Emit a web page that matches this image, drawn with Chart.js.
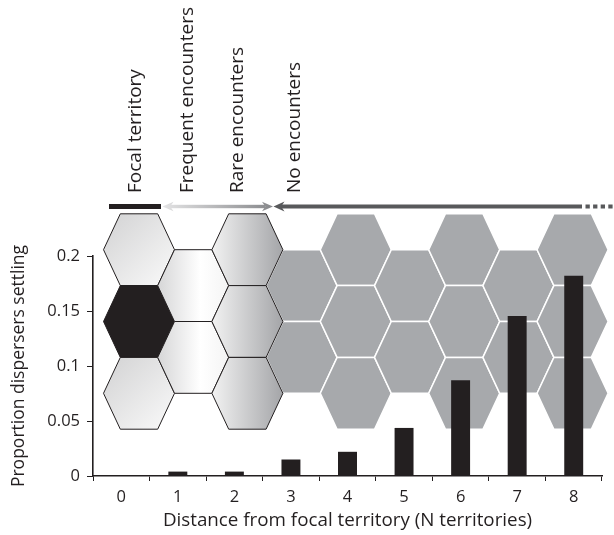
<!DOCTYPE html>
<html>
<head>
<meta charset="utf-8">
<script src="https://cdn.jsdelivr.net/npm/chart.js@4"></script>
<style>
  body { margin: 0; background: #fff; }
  canvas { display: block; }
</style>
</head>
<body>
<canvas id="grafico" width="614" height="535"></canvas>
<script>
const distancias = ['0', '1', '2', '3', '4', '5', '6', '7', '8'];
const proporcaoAssentamento = [0, 0.004, 0.004, 0.015, 0.022, 0.0437, 0.087, 0.1455, 0.182];
const rotulosY = ['0', '0.05', '0.1', '0.15', '0.2'];
const zonas = ['Focal territory', 'Frequent encounters', 'Rare encounters', 'No encounters'];

const corTexto = '#231f20';
const fonte = '"Open Sans"';

function hexagono(ctx, cx, cy, rx, meio, ry) {
    ctx.beginPath();
    ctx.moveTo(cx - rx, cy);
    ctx.lineTo(cx - meio, cy - ry);
    ctx.lineTo(cx + meio, cy - ry);
    ctx.lineTo(cx + rx, cy);
    ctx.lineTo(cx + meio, cy + ry);
    ctx.lineTo(cx - meio, cy + ry);
    ctx.closePath();
}

// fundo de hexagonos (territorios)
const territorios = {
    id: 'territorios',
    beforeDatasetsDraw(chart) {
        const { ctx, chartArea } = chart;
        const x0 = chartArea.left + 46, passo = 54.2;
        const rx = 35.5, meio = 18.7, ry = 35.9;
        const yTopo = chartArea.top - 6.3;
        const centros = (col) => {
            const lista = [];
            const n = col % 2 === 0 ? 3 : 2;
            for (let k = 0; k < n; k++) {
                lista.push(yTopo + (col % 2) * ry + 2 * ry * k);
            }
            return lista;
        };
        ctx.save();
        // colunas cinzentas primeiro
        for (let col = 3; col < 9; col++) {
            const cx = x0 + passo * col;
            centros(col).forEach((cy) => {
                hexagono(ctx, cx, cy, rx, meio, ry);
                ctx.fillStyle = '#a7a9ac';
                ctx.fill();
                ctx.strokeStyle = '#ffffff';
                ctx.lineWidth = 1.5;
                ctx.stroke();
            });
        }
        for (let col = 0; col < 3; col++) {
            const cx = x0 + passo * col;
            centros(col).forEach((cy, i) => {
                hexagono(ctx, cx, cy, rx, meio, ry);
                let g;
                if (col === 0 && i === 1) {
                    g = corTexto;
                } else if (col === 0) {
                    g = ctx.createLinearGradient(cx - rx, cy - ry, cx + rx, cy + ry);
                    g.addColorStop(0, '#d2d2d3');
                    g.addColorStop(1, '#fafafa');
                } else if (col === 1) {
                    g = ctx.createLinearGradient(cx - rx, cy, cx + rx, cy);
                    g.addColorStop(0, '#d6d6d7');
                    g.addColorStop(0.6, '#ffffff');
                    g.addColorStop(1, '#f4f4f4');
                } else {
                    g = ctx.createLinearGradient(cx - rx, cy, cx + rx, cy);
                    g.addColorStop(0, '#f2f2f2');
                    g.addColorStop(1, '#a4a5a8');
                }
                ctx.fillStyle = g;
                ctx.fill();
                ctx.strokeStyle = corTexto;
                ctx.lineWidth = 1;
                ctx.stroke();
            });
        }
        ctx.restore();
    }
};

function pontaSeta(ctx, x, y, dir, comp, alt) {
    ctx.beginPath();
    ctx.moveTo(x, y);
    ctx.lineTo(x - dir * comp, y - alt);
    ctx.lineTo(x - dir * comp * 0.7, y);
    ctx.lineTo(x - dir * comp, y + alt);
    ctx.closePath();
    ctx.fill();
}

// rotulos e setas acima do grafico
const zonasEncontro = {
    id: 'zonasEncontro',
    afterDraw(chart) {
        const { ctx } = chart;
        ctx.save();
        ctx.fillStyle = corTexto;
        ctx.font = '19px ' + fonte;
        ctx.textAlign = 'left';
        ctx.textBaseline = 'alphabetic';
        const basesX = [141, 193, 243, 300];
        zonas.forEach((texto, i) => {
            ctx.save();
            ctx.translate(basesX[i], 193);
            ctx.rotate(-Math.PI / 2);
            ctx.fillText(texto, 0, 0);
            ctx.restore();
        });

        const y = 206.5;
        // territorio focal
        ctx.fillStyle = corTexto;
        ctx.fillRect(109, 204, 52, 5);

        // encontros frequentes / raros
        const g = ctx.createLinearGradient(162, 0, 273, 0);
        g.addColorStop(0, '#e4e4e5');
        g.addColorStop(1, '#87888b');
        ctx.fillStyle = g;
        ctx.fillRect(168, y - 1.7, 97, 3.4);
        pontaSeta(ctx, 162.5, y, -1, 11, 4.8);
        pontaSeta(ctx, 273, y, 1, 11, 4.8);

        // sem encontros
        ctx.fillStyle = '#58595b';
        ctx.fillRect(281, y - 2, 301, 4);
        pontaSeta(ctx, 273.5, y, -1, 11, 5);
        ctx.strokeStyle = '#58595b';
        ctx.lineWidth = 4;
        ctx.setLineDash([4.3, 3.3]);
        ctx.beginPath();
        ctx.moveTo(585.5, y);
        ctx.lineTo(614, y);
        ctx.stroke();
        ctx.restore();
    }
};

new Chart(document.getElementById('grafico').getContext('2d'), {
    type: 'bar',
    data: {
        labels: distancias,
        datasets: [{
            label: 'Proportion dispersers settling',
            data: proporcaoAssentamento,
            backgroundColor: corTexto,
            borderWidth: 0,
            barPercentage: 0.335,
            categoryPercentage: 1
        }]
    },
    options: {
        responsive: false,
        animation: false,
        layout: {
            padding: { top: 256, right: 12, left: 0, bottom: 0 }
        },
        plugins: {
            legend: { display: false },
            tooltip: { enabled: false }
        },
        scales: {
            x: {
                afterFit: (scale) => { scale.height = 59; },
                grid: { drawOnChartArea: false, drawTicks: true, tickLength: 5, color: corTexto, lineWidth: 1 },
                border: { color: corTexto, width: 1.6 },
                ticks: { color: corTexto, font: { family: fonte, size: 16.5 }, padding: 6, maxRotation: 0 },
                title: {
                    display: true,
                    text: 'Distance from focal territory (N territories)',
                    color: corTexto,
                    font: { family: fonte, size: 18.8 },
                    padding: { top: 0, bottom: 3.5 }
                }
            },
            y: {
                min: 0,
                max: 0.2,
                afterFit: (scale) => { scale.width = 93; },
                grid: { drawOnChartArea: false, drawTicks: true, tickLength: 6, color: corTexto, lineWidth: 1 },
                border: { color: corTexto, width: 1.6 },
                ticks: {
                    stepSize: 0.05,
                    color: corTexto,
                    font: { family: fonte, size: 16.5 },
                    padding: 7,
                    callback: (valor, indice) => rotulosY[indice]
                },
                title: {
                    display: true,
                    text: 'Proportion dispersers settling',
                    color: corTexto,
                    font: { family: fonte, size: 17.5 },
                    padding: { top: 9, bottom: 0 }
                }
            }
        }
    },
    plugins: [territorios, zonasEncontro]
});
</script>
</body>
</html>
